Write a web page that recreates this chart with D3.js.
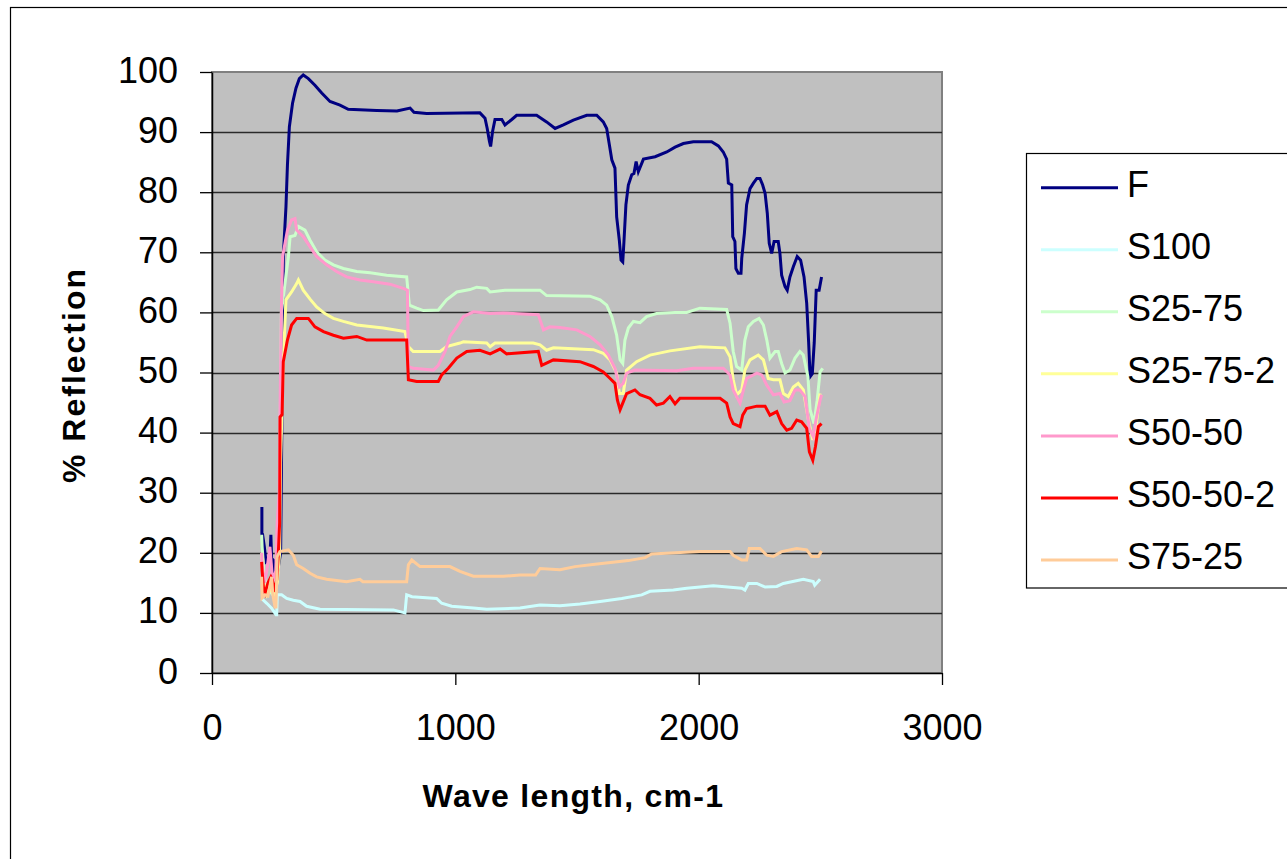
<!DOCTYPE html>
<html>
<head>
<meta charset="utf-8">
<script src="https://cdn.jsdelivr.net/npm/d3@7"></script>
<style>
  html, body { margin: 0; padding: 0; background: #ffffff; }
  svg { display: block; font-family: "Liberation Sans", Arial, sans-serif; }
</style>
</head>
<body>
<svg id="chart" width="1287" height="859"></svg>
<script>
// ---- Data (wavelength, % reflection) ----
const seriesNames = ["F", "S100", "S25-75", "S25-75-2", "S50-50", "S50-50-2", "S75-25"];
const seriesColors = ["#000080", "#CCFFFF", "#CCFFCC", "#FFFF99", "#FF99CC", "#FF0000", "#FFCC99"];
const xTicks = [0, 1000, 2000, 3000];
const yTicks = [0, 10, 20, 30, 40, 50, 60, 70, 80, 90, 100];

const dataF = [[205,27.6],[205,23],[208,23],[215,21],[222,18.5],[238,19],[242,23],[245,19],[252,18.8],[256,16.6],[270,17],[282,20],[288,45],[293,69.3],[304,77.6],[310,84.5],[318,90.9],[331,94.8],[345,97.3],[359,98.9],[375,99.5],[396,98.9],[423,97.8],[451,96.5],[485,95.1],[526,94.5],[560,93.8],[677,93.6],[760,93.5],[814,94],[830,93.3],[882,93.1],[1101,93.2],[1122,92.3],[1131,90.6],[1140,88.5],[1145,87.6],[1153,90.1],[1163,92.1],[1191,92.1],[1204,91.2],[1232,92.1],[1252,92.8],[1334,92.8],[1375,91.7],[1410,90.6],[1444,91.2],[1485,92.0],[1540,92.8],[1581,92.8],[1608,91.7],[1622,90.6],[1633,87.9],[1643,85.4],[1656,84.0],[1663,75.9],[1674,72.0],[1681,68.7],[1688,68.4],[1693,71.8],[1701,77.9],[1711,81.2],[1725,82.9],[1734,83.1],[1743,85.1],[1752,83.4],[1773,85.5],[1821,85.9],[1869,86.7],[1903,87.5],[1937,88.1],[1978,88.4],[2053,88.4],[2081,87.7],[2101,86.7],[2115,85.5],[2122,81.5],[2136,81.2],[2140,72.6],[2149,71.8],[2153,67.3],[2163,66.5],[2174,66.5],[2177,69.0],[2188,73.2],[2197,77.9],[2211,80.6],[2225,81.5],[2239,82.3],[2252,82.3],[2263,81.2],[2273,79.8],[2282,76.5],[2290,71.5],[2300,69.8],[2310,71.8],[2327,71.8],[2334,69.8],[2341,66.2],[2355,64.3],[2364,63.7],[2375,65.9],[2389,67.6],[2405,69.3],[2419,68.7],[2433,65.9],[2444,61.5],[2452,55],[2458,49.3],[2467,49.8],[2475,55],[2483,63.7],[2495,63.7],[2505,65.9]];

const dataS100 = [[204,12.4],[225,11.6],[245,10.8],[263,9.7],[266,9.7],[268,13.0],[286,13.0],[307,12.4],[334,12.1],[362,11.9],[389,11.1],[444,10.6],[745,10.5],[793,10.0],[800,13.0],[822,12.7],[923,12.4],[944,11.6],[985,11.1],[1074,10.8],[1129,10.6],[1266,10.8],[1348,11.3],[1430,11.2],[1512,11.5],[1595,11.9],[1684,12.4],[1766,13.0],[1800,13.6],[1896,13.8],[1951,14.1],[2060,14.5],[2177,14.1],[2190,13.8],[2204,14.9],[2239,14.9],[2273,14.3],[2321,14.4],[2348,14.9],[2430,15.6],[2471,15.2],[2477,14.6],[2499,15.6]];

const dataS25_75 = [[204,23],[206,21],[215,16],[230,14],[250,13],[265,15],[275,20],[280,40],[285,60],[300,64.8],[314,69.3],[321,72.6],[341,72.8],[355,74.3],[382,73.7],[403,72.0],[430,70.1],[464,68.7],[499,67.9],[540,67.3],[595,66.8],[650,66.6],[718,66.2],[800,65.9],[811,61.2],[841,60.7],[869,60.3],[930,60.4],[964,62.1],[1006,63.4],[1060,63.8],[1088,64.2],[1129,64.0],[1143,63.4],[1204,63.7],[1348,63.7],[1375,62.8],[1553,62.7],[1595,62.1],[1622,61.2],[1643,59.3],[1663,56.2],[1677,52.1],[1688,51.5],[1697,55.4],[1711,57.4],[1732,58.5],[1759,58.3],[1786,59.3],[1827,59.8],[1903,60.0],[1951,60.0],[2005,60.7],[2115,60.5],[2129,58.2],[2142,53.5],[2156,51.0],[2177,50.4],[2190,55.4],[2204,57.6],[2225,58.5],[2248,59.0],[2266,57.9],[2280,55.4],[2293,52.4],[2314,53.5],[2327,53.5],[2341,51.5],[2355,49.9],[2375,50.4],[2396,52.4],[2416,53.5],[2430,52.9],[2449,49.3],[2458,43.8],[2474,41.5],[2487,45.4],[2499,50.1],[2510,50.7]];

const dataS25_75_2 = [[204,20],[212,15],[225,13],[240,14],[255,13],[268,15],[278,20],[282,35],[293,52.1],[304,62.1],[327,63.4],[348,64.8],[355,65.4],[375,63.7],[403,62.2],[430,60.9],[464,59.8],[499,59.0],[540,58.5],[595,57.9],[704,57.4],[793,56.8],[807,54.3],[827,53.5],[937,53.5],[964,54.3],[1019,54.9],[1033,55.1],[1129,54.9],[1143,54.3],[1163,54.9],[1320,54.9],[1348,54.6],[1375,53.7],[1403,54.1],[1567,53.8],[1608,53.2],[1636,52.1],[1663,49.9],[1674,46.5],[1690,46.5],[1704,50.4],[1745,51.8],[1800,52.9],[1882,53.6],[2005,54.3],[2108,54.1],[2129,52.6],[2142,48.8],[2156,46.3],[2177,47.1],[2190,50.4],[2211,52.1],[2245,52.9],[2266,52.1],[2286,49.0],[2307,48.8],[2334,48.8],[2348,46.5],[2368,46.0],[2389,47.6],[2409,48.2],[2430,47.1],[2451,42.1],[2469,38.8],[2482,41.0],[2499,46.5]];

const dataS50_50 = [[204,20],[206,18],[215,15],[225,17],[238,21],[242,19],[250,15],[262,17],[268,25],[276,30],[280,45],[285,60],[290,69.3],[310,73.7],[327,75.4],[341,75.6],[348,73.7],[375,72.6],[403,70.9],[430,69.3],[471,67.9],[512,66.8],[553,65.9],[608,65.4],[663,65.1],[731,64.7],[786,64.0],[803,63.7],[807,51.0],[827,50.7],[910,50.4],[930,51.2],[958,53.5],[978,56.0],[1006,57.6],[1033,59.3],[1074,60.1],[1143,59.8],[1197,59.9],[1341,59.6],[1362,57.1],[1389,57.6],[1430,57.5],[1499,57.1],[1553,56.0],[1595,54.6],[1629,52.9],[1656,50.7],[1674,47.6],[1690,48.2],[1704,49.9],[1738,50.4],[1910,50.3],[1978,50.7],[2101,50.7],[2129,49.6],[2142,47.1],[2170,44.9],[2184,47.1],[2197,49.0],[2239,49.9],[2259,49.6],[2280,47.9],[2307,46.3],[2334,46.5],[2351,45.1],[2375,45.3],[2396,47.1],[2416,47.1],[2437,46.0],[2455,40.7],[2471,39.3],[2482,42.1],[2499,45.4],[2505,46.3]];

const dataS50_50_2 = [[204,18.5],[206,17],[212,14],[218,13.3],[230,15],[242,16],[248,15.5],[255,13.5],[266,15.5],[272,19.4],[278,25],[279.5,42.6],[288,43],[293,51.8],[310,55.4],[327,57.9],[348,59.0],[396,59.0],[423,57.6],[458,56.8],[499,56.2],[540,55.7],[595,56.0],[636,55.4],[800,55.4],[807,48.8],[841,48.5],[930,48.5],[944,49.6],[971,50.7],[1006,52.4],[1047,53.5],[1101,53.7],[1143,53.1],[1184,53.9],[1211,53.1],[1341,53.5],[1355,51.2],[1403,52.1],[1512,51.8],[1567,51.0],[1608,50.1],[1636,49.0],[1656,48.2],[1666,45.4],[1677,43.8],[1688,44.9],[1704,46.5],[1738,47.1],[1759,46.3],[1800,45.7],[1827,44.6],[1855,44.9],[1882,46.0],[1903,44.8],[1923,45.7],[2088,45.7],[2115,44.9],[2129,42.6],[2142,41.5],[2170,41.0],[2181,42.9],[2197,44.0],[2239,44.4],[2273,44.4],[2293,42.9],[2321,43.5],[2341,41.5],[2362,40.4],[2382,40.7],[2403,42.1],[2423,41.8],[2444,40.7],[2455,36.8],[2469,35.4],[2480,37.7],[2492,41.0],[2505,41.5]];

const dataS75_25 = [[204,16],[206,12.5],[218,13],[230,12.8],[245,16],[250,13],[259,11.0],[263,11],[268,19.4],[279,20.2],[314,20.5],[334,19.6],[348,18.0],[375,17.4],[403,16.6],[430,16.0],[471,15.6],[553,15.2],[608,15.6],[620,15.2],[800,15.2],[807,18.0],[821,18.8],[855,17.7],[978,17.7],[1019,16.9],[1074,16.1],[1197,16.1],[1266,16.3],[1330,16.3],[1348,17.4],[1430,17.2],[1492,17.7],[1574,18.1],[1711,18.7],[1780,19.2],[1807,19.8],[2005,20.2],[2129,20.2],[2142,19.6],[2177,18.8],[2197,18.8],[2208,20.7],[2252,20.7],[2280,19.6],[2307,19.4],[2341,20.2],[2403,20.7],[2444,20.5],[2464,19.4],[2492,19.4],[2505,20.3]];

const seriesData = [dataF, dataS100, dataS25_75, dataS25_75_2, dataS50_50, dataS50_50_2, dataS75_25];

// ---- Drawing ----
const svg = d3.select("#chart");
const W = 1287, H = 859;
const plot = { left: 212, right: 942, top: 72, bottom: 673 };

svg.append("rect").attr("x", 0).attr("y", 0).attr("width", W).attr("height", H).attr("fill", "#ffffff");
// outer chart border
svg.append("rect").attr("x", 10.5).attr("y", 7.5).attr("width", 1300).attr("height", 900)
  .attr("fill", "none").attr("stroke", "#000").attr("stroke-width", 1.2);

const x = d3.scaleLinear().domain([0, 3000]).range([plot.left, plot.right]);
const y = d3.scaleLinear().domain([0, 100]).range([plot.bottom, plot.top]);

// plot background
svg.append("rect")
  .attr("x", plot.left).attr("y", plot.top)
  .attr("width", plot.right - plot.left).attr("height", plot.bottom - plot.top)
  .attr("fill", "#C0C0C0").attr("stroke", "#808080").attr("stroke-width", 2);

// gridlines
svg.append("g").selectAll("line")
  .data(yTicks.filter(d => d > 0 && d < 100))
  .join("line")
  .attr("x1", plot.left).attr("x2", plot.right)
  .attr("y1", d => Math.round(y(d)) + 0.5).attr("y2", d => Math.round(y(d)) + 0.5)
  .attr("stroke", "#2a2a2a").attr("stroke-width", 1.6);

// series lines
const line = d3.line().x(d => x(d[0])).y(d => y(d[1]));
const lines = svg.append("g");
seriesData.forEach((data, i) => {
  lines.append("path")
    .datum(data)
    .attr("d", line)
    .attr("fill", "none")
    .attr("stroke", seriesColors[i])
    .attr("stroke-width", 3)
    .attr("stroke-linejoin", "miter")
    .attr("stroke-linecap", "butt");
});

// axes
const yAxis = d3.axisLeft(y).tickValues(yTicks).tickSize(12).tickSizeOuter(0).tickPadding(22).tickFormat(d3.format("d"));
const gy = svg.append("g").attr("transform", `translate(${plot.left},0)`).call(yAxis);
gy.select(".domain").attr("stroke", "#000").attr("stroke-width", 1.5);
gy.selectAll(".tick line").attr("stroke", "#000").attr("stroke-width", 1.3);
gy.selectAll(".tick text").attr("font-size", 36).attr("fill", "#000")
  .attr("font-family", "'Liberation Sans', Arial, sans-serif").attr("dy", "0.28em");

const xAxis = d3.axisBottom(x).tickValues(xTicks).tickSize(12).tickSizeOuter(0).tickPadding(29).tickFormat(d3.format("d"));
const gx = svg.append("g").attr("transform", `translate(0,${plot.bottom})`).call(xAxis);
gx.select(".domain").attr("stroke", "#000").attr("stroke-width", 1.5);
gx.selectAll(".tick line").attr("stroke", "#000").attr("stroke-width", 1.3);
gx.selectAll(".tick text").attr("font-size", 36).attr("fill", "#000")
  .attr("font-family", "'Liberation Sans', Arial, sans-serif");

// axis titles
svg.append("text")
  .attr("x", 573.5).attr("y", 806.5)
  .attr("text-anchor", "middle")
  .attr("font-size", 32).attr("font-weight", "bold")
  .attr("letter-spacing", 1.3)
  .text("Wave length, cm-1");

svg.append("text")
  .attr("transform", "translate(85,375) rotate(-90)")
  .attr("text-anchor", "middle")
  .attr("font-size", 32).attr("font-weight", "bold")
  .attr("letter-spacing", 2)
  .text("% Reflection");

// legend
const legend = svg.append("g");
legend.append("rect")
  .attr("x", 1026.5).attr("y", 153.5).attr("width", 300).attr("height", 434.5)
  .attr("fill", "#fff").attr("stroke", "#000").attr("stroke-width", 1.2);
seriesNames.forEach((name, i) => {
  const ly = 187.7 + i * 62.05;
  legend.append("line")
    .attr("x1", 1041).attr("x2", 1118).attr("y1", ly).attr("y2", ly)
    .attr("stroke", seriesColors[i]).attr("stroke-width", 3);
  legend.append("text")
    .attr("x", 1127).attr("y", ly + 9)
    .attr("font-size", 36).attr("fill", "#000")
    .text(name);
});
</script>
</body>
</html>
